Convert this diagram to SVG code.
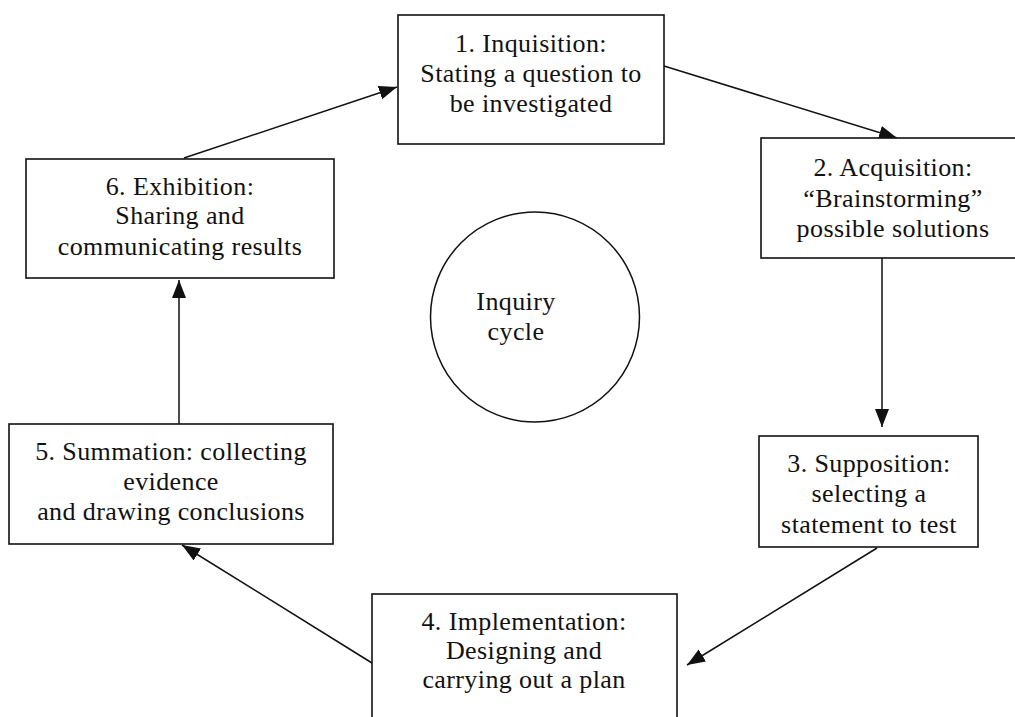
<svg xmlns="http://www.w3.org/2000/svg" width="1015" height="717" viewBox="0 0 1015 717">
<style>
.box{fill:#fff;stroke:#111;stroke-width:1.6}
.t{font-family:"Liberation Serif","Times New Roman",serif;font-size:26px;letter-spacing:0.4px;fill:#111;text-anchor:middle}
.c{fill:none;stroke:#111;stroke-width:1.5}
</style>
<defs>
<marker id="ah" markerUnits="userSpaceOnUse" markerWidth="20" markerHeight="16" refX="18" refY="7" orient="auto">
<path d="M0,0 L18,7 L0,14 z" fill="#111"/>
</marker>
</defs>
<rect width="1015" height="717" fill="#fff"/>
<g id="connectors">
<line class="c" x1="184" y1="158" x2="397" y2="87" marker-end="url(#ah)"/>
<line class="c" x1="664" y1="66" x2="897" y2="138" marker-end="url(#ah)"/>
<line class="c" x1="882" y1="258" x2="882" y2="427" marker-end="url(#ah)"/>
<line class="c" x1="877" y1="548" x2="687" y2="665" marker-end="url(#ah)"/>
<line class="c" x1="372" y1="663" x2="182" y2="545" marker-end="url(#ah)"/>
<line class="c" x1="179" y1="424" x2="179" y2="280" marker-end="url(#ah)"/>
</g>
<g id="n1">
<rect class="box" x="398" y="15" width="266" height="129"/>
<text class="t" x="531" y="52">1. Inquisition:</text>
<text class="t" x="531" y="82">Stating a question to</text>
<text class="t" x="531" y="112">be investigated</text>
</g>
<g id="n2">
<rect class="box" x="761" y="138" width="266" height="120"/>
<text class="t" x="893" y="176">2. Acquisition:</text>
<text class="t" x="893" y="207">“Brainstorming”</text>
<text class="t" x="893" y="237">possible solutions</text>
</g>
<g id="n3">
<rect class="box" x="759" y="436" width="219" height="111"/>
<text class="t" x="869" y="472">3. Supposition:</text>
<text class="t" x="869" y="502">selecting a</text>
<text class="t" x="869" y="533">statement to test</text>
</g>
<g id="n4">
<rect class="box" x="372" y="594" width="305" height="140"/>
<text class="t" x="524" y="630">4. Implementation:</text>
<text class="t" x="524" y="659">Designing and</text>
<text class="t" x="524" y="688">carrying out a plan</text>
</g>
<g id="n5">
<rect class="box" x="9" y="424" width="324" height="120"/>
<text class="t" x="171" y="460">5. Summation: collecting</text>
<text class="t" x="171" y="490">evidence</text>
<text class="t" x="171" y="520">and drawing conclusions</text>
</g>
<g id="n6">
<rect class="box" x="26" y="159" width="308" height="119"/>
<text class="t" x="180" y="195">6. Exhibition:</text>
<text class="t" x="180" y="224">Sharing and</text>
<text class="t" x="180" y="255">communicating results</text>
</g>
<g id="center">
<ellipse cx="535" cy="317" rx="104.5" ry="105" fill="#fff" stroke="#111" stroke-width="1.5"/>
<text class="t" x="516" y="310">Inquiry</text>
<text class="t" x="516" y="340">cycle</text>
</g>
</svg>
